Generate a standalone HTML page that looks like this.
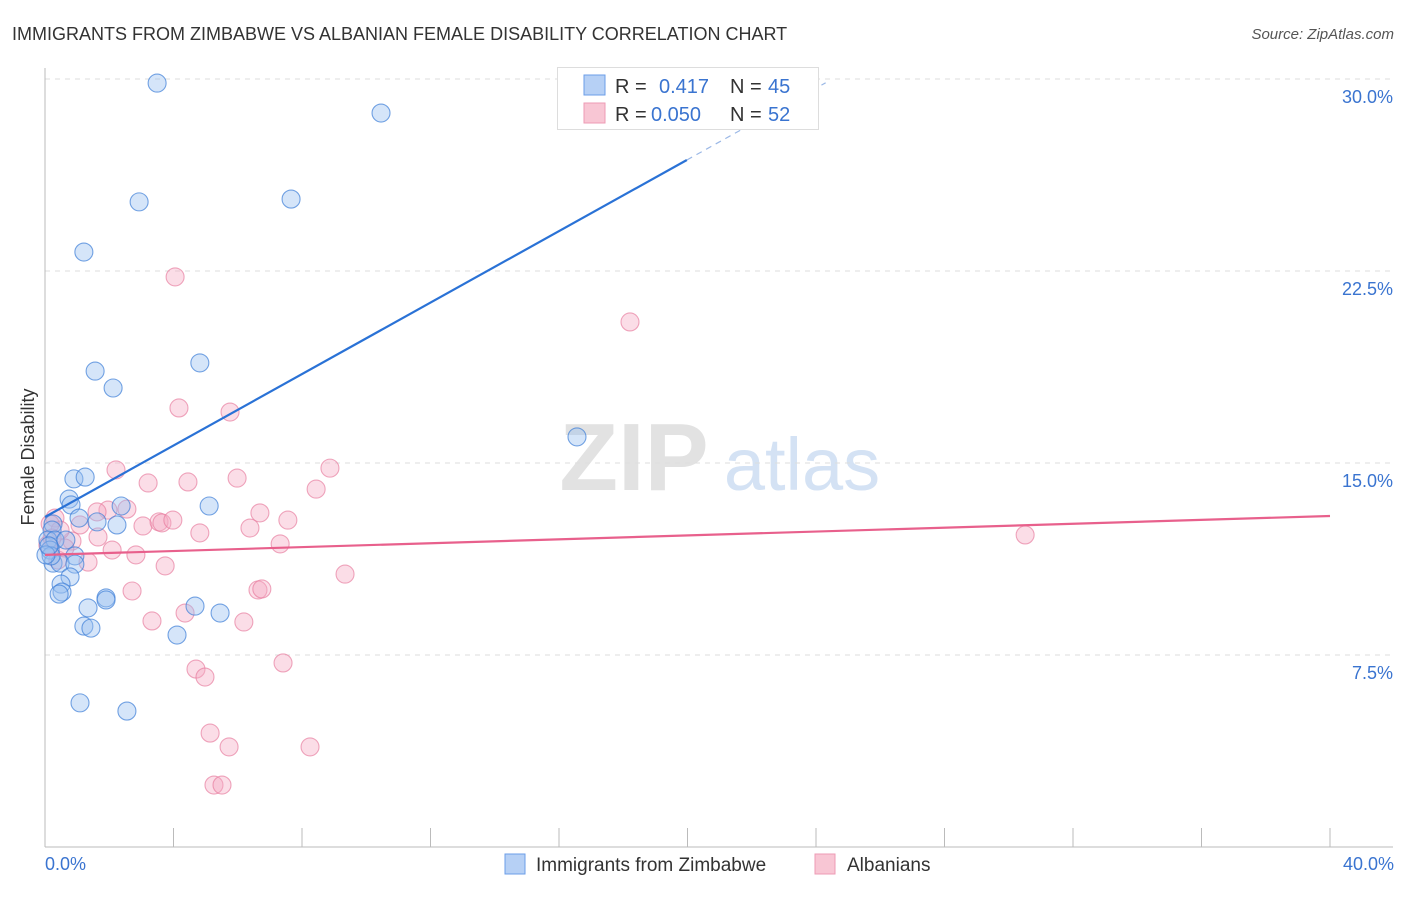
<!DOCTYPE html>
<html><head><meta charset="utf-8"><style>
body{margin:0;background:#fff;font-family:"Liberation Sans",sans-serif;}
svg text{font-family:"Liberation Sans",sans-serif;}
</style></head><body>
<svg id="chart" width="1406" height="892" viewBox="0 0 1406 892" xmlns="http://www.w3.org/2000/svg">
<text x="12" y="40" font-size="18" fill="#333">IMMIGRANTS FROM ZIMBABWE VS ALBANIAN FEMALE DISABILITY CORRELATION CHART</text>
<text x="1394" y="39" font-size="15" fill="#555" font-style="italic" text-anchor="end">Source: ZipAtlas.com</text>
<g>
<text x="634" y="490" font-size="96" fill="#e2e2e2" font-family="Liberation Serif" text-anchor="middle" font-weight="bold">ZIP</text>
<text x="802" y="490" font-size="74" fill="#d4e2f4" text-anchor="middle">atlas</text>
</g>
<g id="grid"></g>
<g id="axes"></g>
<g id="points"></g>
<g id="lines"></g>
<text transform="translate(34,457) rotate(-90)" font-size="18" fill="#333" text-anchor="middle">Female Disability</text>
<text x="45" y="870" font-size="18" fill="#3a74d0">0.0%</text>
<text x="1394" y="870" font-size="18" fill="#3a74d0" text-anchor="end">40.0%</text>
<g>
<rect x="557.5" y="67.5" width="261" height="62" fill="#fff" stroke="#ddd"/>
<rect x="584" y="75" width="21" height="20" fill="#b6d0f5" stroke="#6b9ee8"/>
<rect x="584" y="103" width="21" height="20" fill="#f8c6d4" stroke="#ee9bb4"/>
<text x="615" y="93" font-size="20" fill="#333">R =</text>
<text x="659" y="93" font-size="20" fill="#3a74d0">0.417</text>
<text x="730" y="93" font-size="20" fill="#333">N =</text>
<text x="768" y="93" font-size="20" fill="#3a74d0">45</text>
<text x="615" y="121" font-size="20" fill="#333">R =</text>
<text x="651" y="121" font-size="20" fill="#3a74d0">0.050</text>
<text x="730" y="121" font-size="20" fill="#333">N =</text>
<text x="768" y="121" font-size="20" fill="#3a74d0">52</text>
</g>
<g>
<rect x="505" y="854" width="20" height="20" fill="#b6d0f5" stroke="#6b9ee8"/>
<text x="536" y="871" font-size="19" fill="#333">Immigrants from Zimbabwe</text>
<rect x="815" y="854" width="20" height="20" fill="#f8c6d4" stroke="#ee9bb4"/>
<text x="847" y="871" font-size="19" fill="#333">Albanians</text>
</g>
</svg>
<script>
const yTicks=[7.5,15,22.5,30];
const yTickLabels=["7.5%","15.0%","22.5%","30.0%"];
const xTicks=[0,4,8,12,16,20,24,28,32,36,40];
const blueX=[3.49,10.46,2.93,7.66,1.21,1.56,2.12,4.82,16.56,0.90,1.25,0.75,0.81,5.11,2.37,1.06,1.62,2.24,0.25,0.22,0.09,0.31,0.65,0.16,0.93,0.25,0.47,0.93,0.78,0.50,0.53,0.44,1.34,1.90,1.90,1.21,1.43,4.67,5.45,4.11,1.09,2.55,0.19,0.03,0.12];
const blueY=[29.84,28.67,25.20,25.31,23.24,18.59,17.93,18.91,16.02,14.38,14.45,13.59,13.36,13.32,13.32,12.85,12.70,12.58,12.62,12.38,11.99,11.99,11.99,11.60,11.37,11.09,11.09,11.05,10.55,10.27,9.96,9.88,9.34,9.73,9.65,8.63,8.55,9.41,9.14,8.28,5.63,5.31,11.37,11.41,11.76];
const pinkX=[4.05,18.21,4.17,5.76,2.21,8.87,5.98,3.21,4.45,8.44,2.55,1.96,6.69,7.56,1.62,0.31,1.09,3.05,3.55,3.64,3.98,4.82,6.38,1.65,0.84,7.32,30.51,2.09,2.83,1.34,0.40,3.74,9.34,2.71,6.63,6.75,3.33,6.19,4.36,4.70,4.98,7.41,5.14,5.73,8.25,5.26,5.51,0.47,0.09,0.62,0.16,0.22];
const pinkY=[22.27,20.51,17.15,16.99,14.73,14.80,14.41,14.22,14.26,13.98,13.20,13.16,13.05,12.77,13.09,12.85,12.58,12.54,12.70,12.66,12.77,12.27,12.46,12.11,11.95,11.84,12.19,11.60,11.41,11.13,11.21,10.98,10.66,10.00,10.04,10.08,8.83,8.79,9.14,6.95,6.64,7.19,4.45,3.91,3.91,2.42,2.42,12.38,11.80,11.68,12.62,12.07];
const blueFit=[12.89,0.698];
const pinkFit=[11.41,0.038];
const blueSolidEnd=19.98, blueDashEnd=24.3;
const NS="http://www.w3.org/2000/svg";
const sx=v=>45+v*(1285/40);
const sy=v=>847-v*(192/7.5);
function mk(tag,attrs,parent){const e=document.createElementNS(NS,tag);for(const k in attrs)e.setAttribute(k,attrs[k]);parent.appendChild(e);return e;}
const grid=document.getElementById('grid'),axes=document.getElementById('axes'),pts=document.getElementById('points'),lines=document.getElementById('lines');
yTicks.forEach((t,i)=>{
 const l=mk('line',{x1:45,x2:1393,y1:sy(t),y2:sy(t),stroke:'#ddd','stroke-dasharray':'5,5'},grid);
 
 
 const tx=mk('text',{x:1393,y:sy(t)+24,'font-size':18,fill:'#3a74d0','text-anchor':'end'},axes);
 tx.textContent=yTickLabels[i];
 
 
});
const ya=mk('line',{x1:45,x2:45,y1:68,y2:847,stroke:'#bbb'},axes);


const xa=mk('line',{x1:45,x2:1393,y1:847,y2:847,stroke:'#bbb'},axes);


xTicks.forEach(t=>{
 const l=mk('line',{x1:sx(t),x2:sx(t),y1:828,y2:847,stroke:'#bbb'},axes);
 
 
});
function dots(X,Y,fill,stroke,name){X.forEach((x,i)=>{
 const c=mk('circle',{cx:sx(x),cy:sy(Y[i]),r:9,fill:fill,stroke:stroke,'stroke-width':1.1},pts);
 
 
});}
dots(pinkX,pinkY,'rgba(246,170,195,0.4)','rgba(230,120,155,0.65)','albanian-point');
dots(blueX,blueY,'rgba(150,190,240,0.4)','rgba(60,125,215,0.7)','zimbabwe-point');
const b1=mk('line',{x1:sx(0),y1:sy(blueFit[0]),x2:sx(blueSolidEnd),y2:sy(blueFit[0]+blueFit[1]*blueSolidEnd),stroke:'#2a72d6','stroke-width':2.2},lines);


const b2=mk('line',{x1:sx(blueSolidEnd),y1:sy(blueFit[0]+blueFit[1]*blueSolidEnd),x2:sx(blueDashEnd),y2:sy(blueFit[0]+blueFit[1]*blueDashEnd),stroke:'#9bb8e6','stroke-width':1.2,'stroke-dasharray':'6,5'},lines);


const p1=mk('line',{x1:sx(0),y1:sy(pinkFit[0]),x2:sx(40),y2:sy(pinkFit[0]+pinkFit[1]*40),stroke:'#e8608c','stroke-width':2.2},lines);


</script>
</body></html>
